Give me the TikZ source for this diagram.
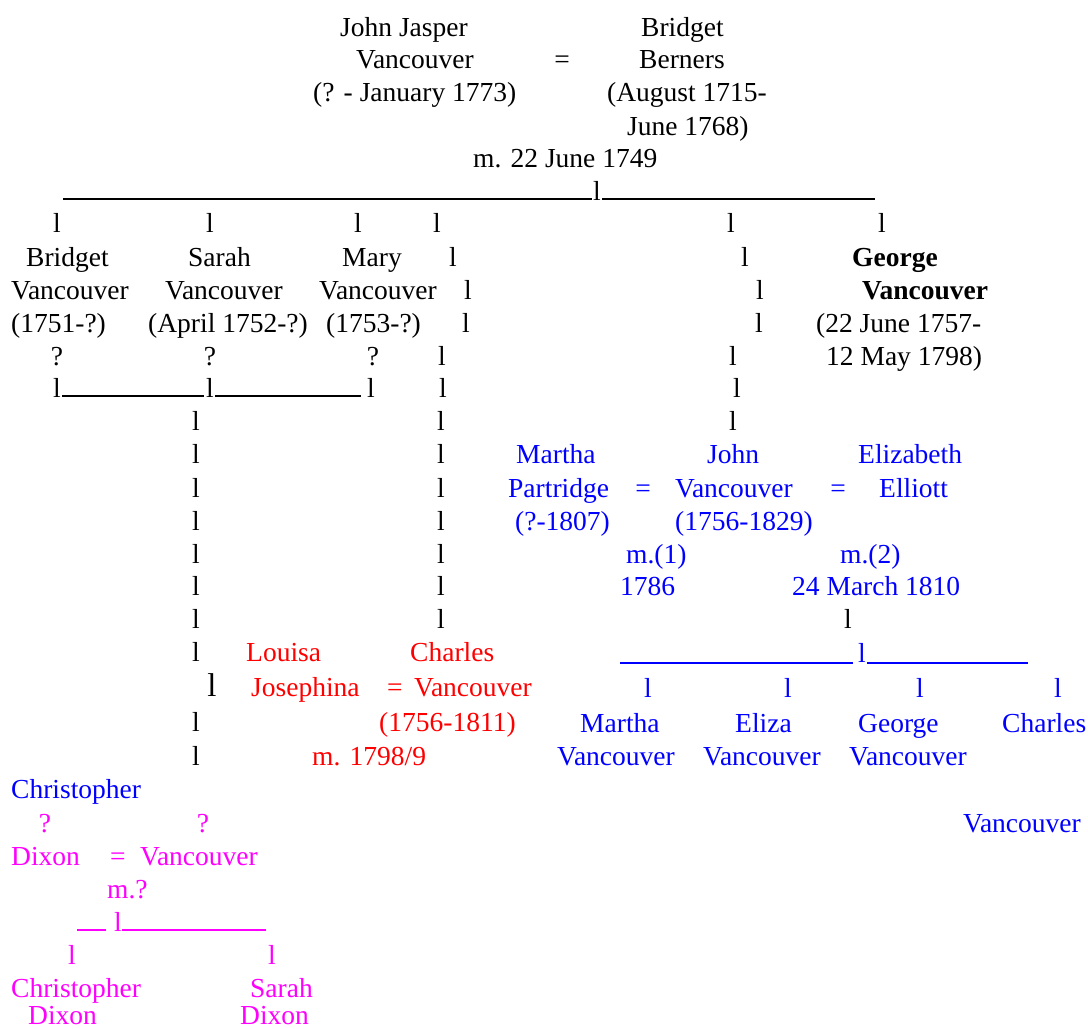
\documentclass[tikz,border=0pt]{standalone}
\usepackage{fontspec}
\setmainfont{Liberation Serif}
\definecolor{pblue}{RGB}{0,0,255}
\definecolor{pred}{RGB}{255,0,0}
\definecolor{pmag}{RGB}{255,0,255}
\newcommand\fsz{\fontsize{27.5}{33}\selectfont}
\tikzset{
  tl/.style={anchor=base west,inner sep=0pt,font=\fsz,text=black},
  tc/.style={anchor=base,inner sep=0pt,font=\fsz,text=black},
  blu/.style={text=pblue},
  rd/.style={text=pred},
  mg/.style={text=pmag},
  bar/.style={line width=1.4pt},
}
\begin{document}
\begin{tikzpicture}[x=1pt,y=-1pt]
\path[fill=white] (0,0) rectangle (1088,1029);
% generation 1
\node[tl] (jj1) at (340,36) {John Jasper};
\node[tl] (bb1) at (641,36) {Bridget};
\node[tl] (jj2) at (356,68) {Vancouver};
\node[tc] (eq1) at (562,68) {=};
\node[tl] (bb2) at (639,68) {Berners};
\node[tl] (jj3) at (313,101) {(? - January 1773)};
\node[tl] (bb3) at (607,101) {(August 1715-};
\node[tl] (bb4) at (627,135) {June 1768)};
\node[tl] (m1) at (473,167) {m. 22 June 1749};
% row 6
\coordinate (u6a) at (63,199); \coordinate (u6b) at (592,199);
\node[tc] (l6) at (597,200) {l};
\coordinate (u6c) at (602,199); \coordinate (u6d) at (875,199);
\draw[bar] (u6a) -- (u6b); \draw[bar] (u6c) -- (u6d);
% row 7
\foreach \x [count=\i] in {57,210,358,437,731,882} \node[tc] (r7-\i) at (\x,232) {l};
% row 8
\node[tl] (bv1) at (26,266) {Bridget};
\node[tl] (sv1) at (188,266) {Sarah};
\node[tl] (mv1) at (342,266) {Mary};
\node[tc] (r8-1) at (453,266) {l};
\node[tc] (r8-2) at (745,266) {l};
\node[tl,font=\fsz\bfseries] (gv1) at (852,266) {George};
% row 9
\node[tl] (bv2) at (11,299) {Vancouver};
\node[tl] (sv2) at (165,299) {Vancouver};
\node[tl] (mv2) at (319,299) {Vancouver};
\node[tc] (r9-1) at (468,299) {l};
\node[tc] (r9-2) at (760,299) {l};
\node[tl,font=\fsz\bfseries] (gv2) at (862,299) {Vancouver};
% row 10
\node[tl] (bv3) at (11,332) {(1751-?)};
\node[tl] (sv3) at (148,332) {(April 1752-?)};
\node[tl] (mv3) at (326,332) {(1753-?)};
\node[tc] (r10-1) at (466,332) {l};
\node[tc] (r10-2) at (759,332) {l};
\node[tl] (gv3) at (816,332) {(22 June 1757-};
% row 11
\node[tc] (q11-1) at (57,365) {?};
\node[tc] (q11-2) at (210,365) {?};
\node[tc] (q11-3) at (373,365) {?};
\node[tc] (r11-1) at (442,365) {l};
\node[tc] (r11-2) at (733,365) {l};
\node[tl] (gv4) at (826,365) {12 May 1798)};
% row 12
\node[tc] (r12-1) at (57,397) {l};
\node[tc] (r12-2) at (210,397) {l};
\node[tc] (r12-3) at (371,397) {l};
\node[tc] (r12-4) at (443,397) {l};
\node[tc] (r12-5) at (737,397) {l};
\coordinate (u12a) at (62,396); \coordinate (u12b) at (204,396);
\coordinate (u12c) at (215,396); \coordinate (u12d) at (361,396);
\draw[bar] (u12a) -- (u12b); \draw[bar] (u12c) -- (u12d);
% long columns rows 13-19
\foreach \y [count=\i] in {430,463,497,530,563,595,628} {
  \node[tc] (ca-\i) at (196,\y) {l};
  \node[tc] (cb-\i) at (441,\y) {l};
}
\node[tc] (r13-3) at (733,430) {l};
\node[tc] (r19-3) at (848,628) {l};
% John Vancouver family
\node[tl,blu] (mp1) at (516,463) {Martha};
\node[tl,blu] (jv1) at (707,463) {John};
\node[tl,blu] (ee1) at (858,463) {Elizabeth};
\node[tl,blu] (mp2) at (508,497) {Partridge};
\node[tc,blu] (eq2) at (643,497) {=};
\node[tl,blu] (jv2) at (675,497) {Vancouver};
\node[tc,blu] (eq3) at (838,497) {=};
\node[tl,blu] (ee2) at (879,497) {Elliott};
\node[tl,blu] (mp3) at (515,530) {(?-1807)};
\node[tl,blu] (jv3) at (675,530) {(1756-1829)};
\node[tl,blu] (mm1) at (626,563) {m.(1)};
\node[tl,blu] (mm2) at (840,563) {m.(2)};
\node[tl,blu] (mm1y) at (620,595) {1786};
\node[tl,blu] (mm2y) at (792,595) {24 March 1810};
% row 20
\node[tc] (ca-8) at (196,661) {l};
\node[tl,rd] (lj1) at (246,661) {Louisa};
\node[tl,rd] (cv1) at (410,661) {Charles};
\coordinate (u20a) at (620,663); \coordinate (u20b) at (853,663);
\node[tc,blu] (r20-1) at (862,662) {l};
\coordinate (u20c) at (867,663); \coordinate (u20d) at (1028,663);
\draw[bar,pblue] (u20a) -- (u20b); \draw[bar,pblue] (u20c) -- (u20d);
% row 21
\node[tc,font=\fontsize{33}{36}\selectfont] (big) at (212,696) {l};
\node[tl,rd] (lj2) at (251,696) {Josephina};
\node[tc,rd] (eq4) at (395,696) {=};
\node[tl,rd] (cv2) at (414,696) {Vancouver};
\foreach \x [count=\i] in {648,788,920,1058} \node[tc,blu] (r21-\i) at (\x,697) {l};
% row 22
\node[tc] (ca-9) at (196,731) {l};
\node[tl,rd] (cv3) at (379,731) {(1756-1811)};
\node[tl,blu] (k1a) at (580,732) {Martha};
\node[tl,blu] (k2a) at (735,732) {Eliza};
\node[tl,blu] (k3a) at (858,732) {George};
\node[tl,blu] (k4a) at (1002,732) {Charles};
% row 23
\node[tc] (ca-10) at (196,765) {l};
\node[tl,rd] (mm3) at (312,765) {m. 1798/9};
\node[tl,blu] (k1b) at (557,765) {Vancouver};
\node[tl,blu] (k2b) at (703,765) {Vancouver};
\node[tl,blu] (k3b) at (849,765) {Vancouver};
% row 24-25
\node[tl,blu] (cd1) at (11,798) {Christopher};
\node[tc,mg] (q25-1) at (45,832) {?};
\node[tc,mg] (q25-2) at (203,832) {?};
\node[tl,blu] (k4b) at (963,832) {Vancouver};
% Dixon family
\node[tl,mg] (cd2) at (11,865) {Dixon};
\node[tc,mg] (eq5) at (118,865) {=};
\node[tl,mg] (sv5) at (140,865) {Vancouver};
\node[tl,mg] (mm4) at (107,898) {m.?};
\coordinate (u28a) at (77,930); \coordinate (u28b) at (106,930);
\node[tc,mg] (r28) at (118,931) {l};
\coordinate (u28c) at (122,930); \coordinate (u28d) at (266,930);
\draw[bar,pmag] (u28a) -- (u28b); \draw[bar,pmag] (u28c) -- (u28d);
\node[tc,mg] (r29-1) at (72,964) {l};
\node[tc,mg] (r29-2) at (272,964) {l};
\node[tl,mg] (dc1) at (11,997) {Christopher};
\node[tl,mg] (ds1) at (250,997) {Sarah};
\node[tl,mg,text depth=0pt] (dc2) at (28,1024) {Dixon};
\node[tl,mg,text depth=0pt] (ds2) at (240,1024) {Dixon};
\end{tikzpicture}
\end{document}
